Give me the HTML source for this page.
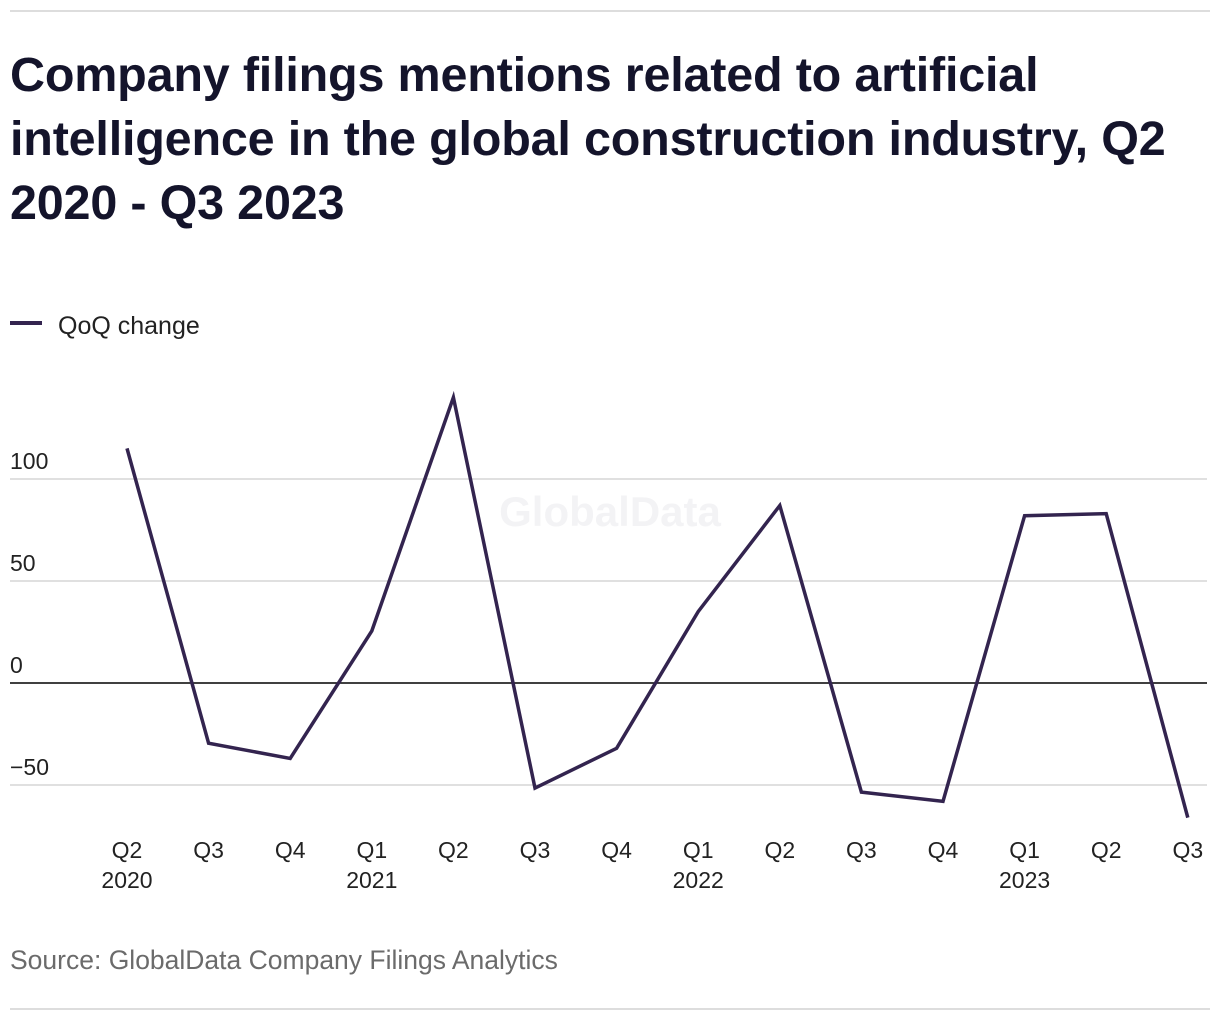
<!DOCTYPE html>
<html><head><meta charset="utf-8"><style>
body{margin:0;background:#fff;width:1220px;height:1020px;overflow:hidden;font-family:"Liberation Sans",sans-serif;color:#1a1a2e}
.rule{position:absolute;left:10px;width:1200px;height:2px;background:#ddd}
h1{position:absolute;left:10px;top:43px;margin:0;font-size:48.5px;line-height:64px;font-weight:bold;width:1195px;color:#14142b;letter-spacing:-0.2px}
.legend{position:absolute;left:10px;top:312px;font-size:25px;color:#222}
.legend span{display:inline-block;width:32px;height:4px;background:#33244f;vertical-align:middle;margin-right:16px;position:relative;top:-4px}
.src{position:absolute;left:10px;top:945px;font-size:26.5px;color:#6b6b6b}
</style></head><body>
<div class="rule" style="top:10px"></div>
<h1>Company filings mentions related to artificial intelligence in the global construction industry, Q2 2020 - Q3 2023</h1>
<div class="legend"><span></span>QoQ change</div>
<svg id="chart" width="1220" height="1020" style="position:absolute;left:0;top:0"></svg>
<div class="src">Source: GlobalData Company Filings Analytics</div>
<div class="rule" style="top:1008px"></div>
<script>
const categories=["Q2","Q3","Q4","Q1","Q2","Q3","Q4","Q1","Q2","Q3","Q4","Q1","Q2","Q3"];
const years=["2020","","","2021","","","","2022","","","","2023","",""];
const values=[115,-29.5,-37,25.5,140,-51.5,-32,35,87,-53.5,-58,82,83,-66];
const yTicks=[-50,0,50,100];
const ns="http://www.w3.org/2000/svg";
const svg=document.getElementById("chart");
const x=i=>127+i*81.6;
const y=v=>683-v*2.04;
function mk(t,a){const e=document.createElementNS(ns,t);for(const k in a)e.setAttribute(k,a[k]);svg.appendChild(e);return e;}
yTicks.forEach(t=>{
 const g=mk("line",{x1:10,x2:1207,y1:y(t),y2:y(t),stroke:t===0?"#000":"#d6d6d6","stroke-width":1.5});
 
 
 const l=mk("text",{x:10,y:y(t)-10,"font-size":23,fill:"#222","font-family":"Liberation Sans, sans-serif"});
 l.textContent=t<0?"\u2212"+Math.abs(t):String(t);
 
 
});
const wm=mk("text",{x:610,y:526,"font-size":42,"font-weight":"bold",fill:"#f3f3f5","text-anchor":"middle","font-family":"Liberation Sans, sans-serif"});
wm.textContent="GlobalData";


const p=mk("polyline",{points:values.map((v,i)=>x(i)+","+y(v)).join(" "),fill:"none",stroke:"#33244f","stroke-width":3.5,"stroke-linejoin":"miter"});


categories.forEach((c,i)=>{
 const t=mk("text",{x:x(i),y:858,"font-size":23,fill:"#222","text-anchor":"middle","font-family":"Liberation Sans, sans-serif"});
 t.textContent=c;
 
 
 if(years[i]){
  const yy=mk("text",{x:x(i),y:888,"font-size":23,fill:"#222","text-anchor":"middle","font-family":"Liberation Sans, sans-serif"});
  yy.textContent=years[i];
  
  
 }
});
</script>
</body></html>
